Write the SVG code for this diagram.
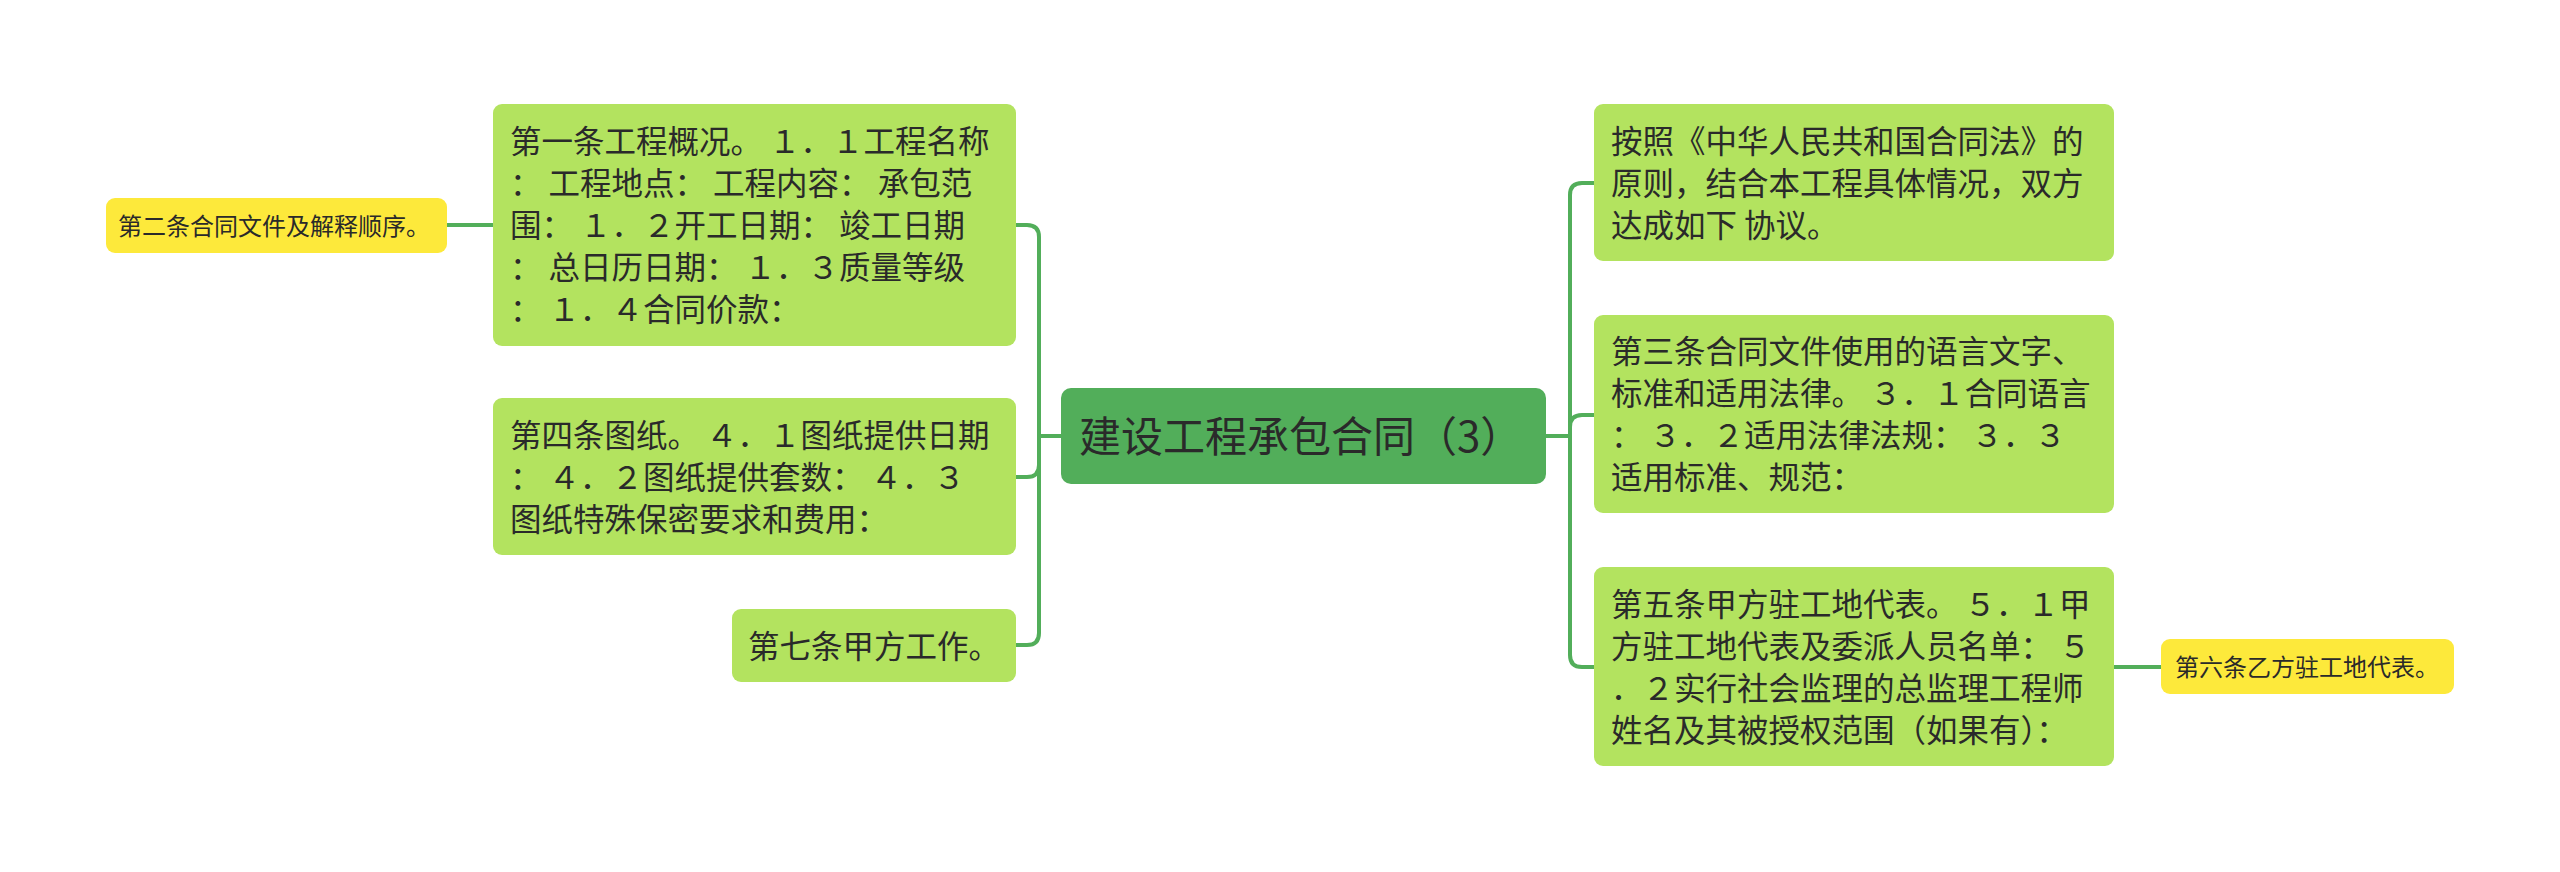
<svg xmlns="http://www.w3.org/2000/svg" width="2560" height="872" viewBox="0 0 2560 872">
<style>
.bg{fill:#ffffff}
.sub{fill:#b3e35f}
.yel{fill:#fde93b}
.root{fill:#52ae5a}
.t{font-family:"Noto Sans CJK SC","Noto Sans",sans-serif;fill:#2a2a2a}
.t31{font-size:31.5px}
.t24{font-size:24px}
.t42{font-size:42px}
.conn path{fill:none;stroke:#52ae5a;stroke-width:4;stroke-linecap:round}
</style>
<rect class="bg" x="0" y="0" width="2560" height="872"/>
<g id="connectors" class="conn">
<path d="M1061,436 H1039 V237 Q1039,225 1027,225 H1016"/>
<path d="M1061,436 H1039 V465 Q1039,477 1027,477 H1016"/>
<path d="M1061,436 H1039 V633 Q1039,645 1027,645 H1016"/>
<path d="M493,225 H447"/>
<path d="M1546,436 H1570 V195 Q1570,183 1582,183 H1594"/>
<path d="M1546,436 H1570 V427 Q1570,415 1582,415 H1594"/>
<path d="M1546,436 H1570 V655 Q1570,667 1582,667 H1594"/>
<path d="M2114,667 H2161"/>
</g>
<g id="root">
<rect class="root" x="1061" y="388" width="485" height="96" rx="10"/>
<text class="t t42" x="1079" y="452">建设工程承包合同（3）</text>
</g>
<g id="n1">
<rect class="sub" x="493" y="104" width="523" height="242" rx="9"/>
<text class="t t31" x="510" y="153">第一条工程概况。 １．１工程名称</text>
<text class="t t31" x="510" y="195">： 工程地点： 工程内容： 承包范</text>
<text class="t t31" x="510" y="237">围： １．２开工日期： 竣工日期</text>
<text class="t t31" x="510" y="279">： 总日历日期： １．３质量等级</text>
<text class="t t31" x="510" y="321">： １．４合同价款：</text>
</g>
<g id="n2">
<rect class="yel" x="106" y="198" width="341" height="55" rx="9"/>
<text class="t t24" x="118" y="234.5">第二条合同文件及解释顺序。</text>
</g>
<g id="n4">
<rect class="sub" x="493" y="398" width="523" height="157" rx="9"/>
<text class="t t31" x="510" y="446.5">第四条图纸。 ４．１图纸提供日期</text>
<text class="t t31" x="510" y="488.5">： ４．２图纸提供套数： ４．３</text>
<text class="t t31" x="510" y="530.5">图纸特殊保密要求和费用：</text>
</g>
<g id="n7">
<rect class="sub" x="732" y="609" width="284" height="73" rx="9"/>
<text class="t t31" x="748" y="657.5">第七条甲方工作。</text>
</g>
<g id="nA">
<rect class="sub" x="1594" y="104" width="520" height="157" rx="9"/>
<text class="t t31" x="1611" y="152.5">按照《中华人民共和国合同法》的</text>
<text class="t t31" x="1611" y="194.5">原则，结合本工程具体情况，双方</text>
<text class="t t31" x="1611" y="236.5">达成如下 协议。</text>
</g>
<g id="n3">
<rect class="sub" x="1594" y="315" width="520" height="198" rx="9"/>
<text class="t t31" x="1611" y="363">第三条合同文件使用的语言文字、</text>
<text class="t t31" x="1611" y="405">标准和适用法律。 ３．１合同语言</text>
<text class="t t31" x="1611" y="447">： ３．２适用法律法规： ３．３</text>
<text class="t t31" x="1611" y="489">适用标准、规范：</text>
</g>
<g id="n5">
<rect class="sub" x="1594" y="567" width="520" height="199" rx="9"/>
<text class="t t31" x="1611" y="615.5">第五条甲方驻工地代表。 ５．１甲</text>
<text class="t t31" x="1611" y="657.5">方驻工地代表及委派人员名单： ５</text>
<text class="t t31" x="1611" y="699.5">．２实行社会监理的总监理工程师</text>
<text class="t t31" x="1611" y="741.5">姓名及其被授权范围（如果有）：</text>
</g>
<g id="n6">
<rect class="yel" x="2161" y="639" width="293" height="55" rx="9"/>
<text class="t t24" x="2175" y="675.5">第六条乙方驻工地代表。</text>
</g>
</svg>
